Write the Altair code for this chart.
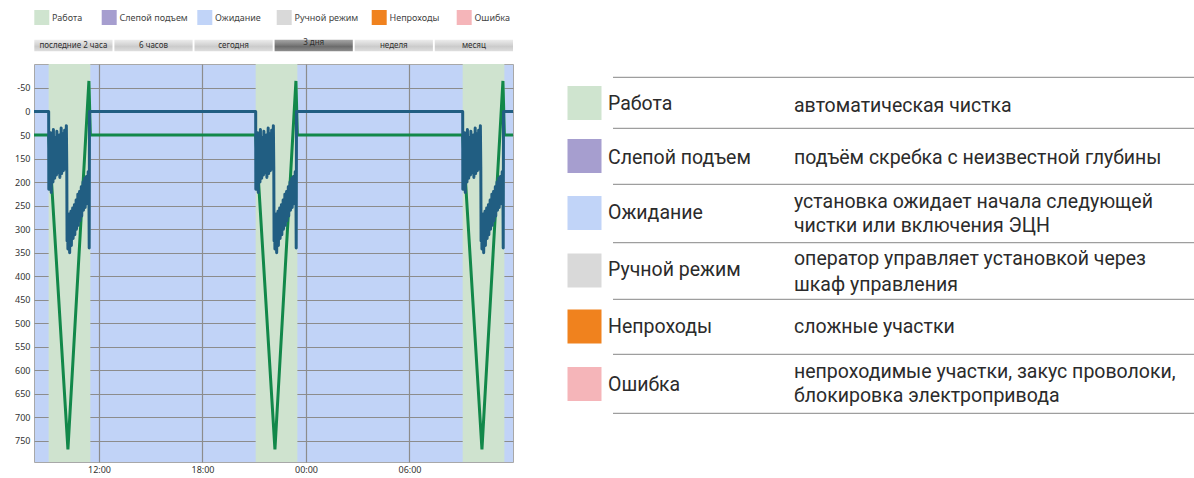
import json
import altair as alt
import pandas as pd

# ---------------- data ----------------
domain_start = "2019-03-11T08:14:00"
domain_end = "2019-03-12T12:00:00"

band_starts = ["2019-03-11T09:05:00", "2019-03-11T21:05:00", "2019-03-12T09:05:00"]
band_ends = ["2019-03-11T11:30:00", "2019-03-11T23:30:00", "2019-03-12T11:30:00"]

idle_blue = 0
idle_green = 50

# one cleaning cycle (minutes after the cycle start), identical in all three cycles
green_cycle_min = [0, 67, 140, 145]
green_cycle_val = [50, 718, -65, 50]

blue_cycle_min = [0, 0.5,
                  1.5, 3, 4.5, 6, 7.5, 9, 10.5, 12, 13.5, 15, 16.5, 18, 19.5, 21, 22.5, 24,
                  25.5, 27, 28.5, 30, 31.5, 33, 34.5, 36, 37.5, 39, 40.5, 42, 43.5, 45, 46.5,
                  48, 49.5, 51, 52.5, 54, 55.5, 57, 58.5, 60, 61.5, 63,
                  64, 65.5, 67, 68.5, 70, 71.5, 73, 74.5, 76, 77.5, 79, 80.5, 82, 83.5, 85,
                  86.5, 88, 89.5, 91, 92.5, 94, 95.5, 97, 98.5, 100, 101.5, 103, 104.5, 106,
                  107.5, 109, 110.5, 112, 113.5, 115, 116.5, 118, 119.5, 121, 122.5, 124,
                  125.5, 127, 128.5, 130, 131.5, 133, 134.5, 136, 137.5, 139,
                  140, 141, 142, 145]
blue_cycle_val = [0, 165,
                  58, 165, 72, 148, 45, 172, 80, 138, 62, 150,
                  38, 128, 85, 142, 55, 118, 70, 135, 42, 125,
                  88, 130, 60, 112, 50, 140, 75, 120, 35, 132,
                  66, 108, 48, 126, 82, 115, 40, 122, 58, 105,
                  30, 118,
                  275,
                  225, 292, 235, 280, 218, 300, 240, 276, 212, 285,
                  230, 262, 205, 270, 224, 255, 198, 262, 210, 246,
                  188, 250, 200, 236, 176, 242, 190, 225, 170, 232,
                  180, 214, 160, 222, 172, 205, 150, 210, 165, 198,
                  142, 204, 158, 192, 138, 196, 150, 186, 128, 180,
                  165, 290, 0, 0]

y_tick_values = [-50, 0, 50, 100, 150, 200, 250, 300, 350, 400, 450, 500, 550, 600, 650, 700]
y_tick_labels = ["-50", "0", "50", "150", "200", "250", "300", "350", "400", "450",
                 "500", "550", "600", "650", "700", "750"]
x_tick_times = ["2019-03-11T12:00:00", "2019-03-11T18:00:00",
                "2019-03-12T00:00:00", "2019-03-12T06:00:00"]

states = ["Работа", "Слепой подъем", "Ожидание", "Ручной режим", "Непроходы", "Ошибка"]
state_colors = ["#cfe4cf", "#a69ecf", "#c1d4f8", "#d9d9d9", "#f0821e", "#f5b5b9"]
state_desc = [
    ["автоматическая чистка"],
    ["подъём скребка с неизвестной глубины"],
    ["установка ожидает начала следующей", "чистки или включения ЭЦН"],
    ["оператор управляет установкой через", "шкаф управления"],
    ["сложные участки"],
    ["непроходимые участки, закус проволоки,", "блокировка электропривода"],
]
periods = ["последние 2 часа", "6 часов", "сегодня", "3 дня", "неделя", "месяц"]
selected_period = "3 дня"

# ---------------- layout (pixels) ----------------
OX, OY = 34, 64          # plot origin
W, H = 479, 398          # plot size
TOTAL_W, TOTAL_H = 1194, 478
CHART_FONT = "Noto Sans"
PANEL_FONT = "Roboto"
BLUE_BG = "#c1d3f7"
WORK_GREEN = "#cfe3cf"
LINE_BLUE = "#215e82"
LINE_GREEN = "#12884a"

top_sq_x = [34.3, 101.7, 197.3, 276.7, 371.7, 456.7]
btn_x0, btn_step, btn_w = 34.3, 80.1, 78.2
panel_sq_y = [86, 139, 196, 253.5, 309.5, 367]
panel_label_y = [104, 158, 213, 270, 327, 385]
panel_desc_y = [[106], [158], [202, 226], [259, 285], [327], [372, 396]]
panel_sep_y = [77.3, 128.3, 184.3, 242.7, 299.3, 354.3, 413.3]


def ts(s):
    return pd.Timestamp(s)


def dt(s):
    t = pd.Timestamp(s)
    return alt.DateTime(year=t.year, month=t.month, date=t.day, hours=t.hour, minutes=t.minute)


# ---------------- main plot ----------------
bands = pd.DataFrame({"start": band_starts, "end": band_ends, "state": states[0]})

rows = []
rows.append({"t": domain_start, "v": idle_blue, "s": "blue"})
rows.append({"t": domain_start, "v": idle_green, "s": "green"})
for bs in band_starts:
    b = ts(bs)
    for m, v in zip(blue_cycle_min, blue_cycle_val):
        rows.append({"t": (b + pd.Timedelta(seconds=m * 60)).strftime("%Y-%m-%dT%H:%M:%S"), "v": v, "s": "blue"})
    for m, v in zip(green_cycle_min, green_cycle_val):
        rows.append({"t": (b + pd.Timedelta(seconds=m * 60)).strftime("%Y-%m-%dT%H:%M:%S"), "v": v, "s": "green"})
rows.append({"t": domain_end, "v": idle_blue, "s": "blue"})
rows.append({"t": domain_end, "v": idle_green, "s": "green"})
lines = pd.DataFrame(rows)

label_expr = "{}[indexof({}, datum.value)]".format(json.dumps(y_tick_labels, ensure_ascii=False),
                                                      json.dumps(y_tick_values))

x_scale = alt.Scale(domain=[dt(domain_start), dt(domain_end)], nice=False)
x_axis = alt.Axis(values=[dt(s) for s in x_tick_times], format="%H:%M", grid=True,
                  gridColor="#8c8c8c", gridWidth=1.2, ticks=False, domain=False,
                  labelFont=CHART_FONT, labelFontSize=9, labelColor="#333333",
                  labelPadding=3, labelFlush=False)
y_scale = alt.Scale(domain=[-101, 745], reverse=True, nice=False, zero=False)
y_axis = alt.Axis(values=y_tick_values, labelExpr=label_expr, grid=True, gridColor="#8c8c8c",
                  gridWidth=1.2, ticks=False, domain=False, labelFont=CHART_FONT,
                  labelFontSize=9, labelColor="#333333", labelPadding=4)

band_layer = alt.Chart(bands).mark_rect(color=WORK_GREEN).encode(
    x=alt.X("start:T", title=None, scale=x_scale, axis=x_axis), x2="end:T")

blue_layer = alt.Chart(lines).transform_filter(alt.datum.s == "blue").mark_line(
    color=LINE_BLUE, strokeWidth=3, strokeJoin="round").encode(
    x=alt.X("t:T", title=None, scale=x_scale, axis=x_axis),
    y=alt.Y("v:Q", title=None, scale=y_scale, axis=y_axis))

green_layer = alt.Chart(lines).transform_filter(alt.datum.s == "green").mark_line(
    color=LINE_GREEN, strokeWidth=3).encode(
    x=alt.X("t:T", title=None, scale=x_scale, axis=x_axis),
    y=alt.Y("v:Q", title=None, scale=y_scale, axis=y_axis))

main = alt.layer(band_layer, green_layer, blue_layer)


# ---------------- decorations (legend, period buttons, explanation panel) ----------------
def X(f):
    return alt.X(f, scale=None, axis=None)


def Y(f):
    return alt.Y(f, scale=None, axis=None)


top_sq = pd.DataFrame({
    "x": [x - OX for x in top_sq_x], "x2": [x + 15 - OX for x in top_sq_x],
    "y": 10 - OY, "y2": 25 - OY, "c": state_colors})
top_sq_layer = alt.Chart(top_sq).mark_rect().encode(
    x=X("x:Q"), x2="x2:Q", y=Y("y:Q"), y2="y2:Q", color=alt.Color("c:N", scale=None))

top_lbl = pd.DataFrame({"x": [x + 17.8 - OX for x in top_sq_x], "y": 17.5 - OY, "t": states})
top_lbl_layer = alt.Chart(top_lbl).mark_text(
    align="left", baseline="middle", font=CHART_FONT, fontSize=9, color="#444444").encode(
    x=X("x:Q"), y=Y("y:Q"), text="t:N")

btn = pd.DataFrame({
    "x": [btn_x0 + i * btn_step - OX for i in range(len(periods))],
    "x2": [btn_x0 + i * btn_step + btn_w - OX for i in range(len(periods))],
    "xc": [btn_x0 + i * btn_step + btn_w / 2 - OX for i in range(len(periods))],
    "y": 39.7 - OY, "y2": 51.2 - OY,
    "ty": [(43.2 if p == selected_period else 45.6) - OY for p in periods],
    "t": periods,
    "sel": [p == selected_period for p in periods]})

grad_normal = alt.Gradient(gradient="linear", x1=0, x2=0, y1=0, y2=1, stops=[
    alt.GradientStop(color="#ececec", offset=0), alt.GradientStop(color="#dcdcdc", offset=0.3),
    alt.GradientStop(color="#cbcbcb", offset=0.6), alt.GradientStop(color="#dedede", offset=1)])
grad_sel = alt.Gradient(gradient="linear", x1=0, x2=0, y1=0, y2=1, stops=[
    alt.GradientStop(color="#a6a6a6", offset=0), alt.GradientStop(color="#8a8a8a", offset=0.3),
    alt.GradientStop(color="#6c6c6c", offset=0.6), alt.GradientStop(color="#8e8e8e", offset=1)])

btn_layer = alt.Chart(btn).transform_filter(~alt.datum.sel).mark_rect(fill=grad_normal).encode(
    x=X("x:Q"), x2="x2:Q", y=Y("y:Q"), y2="y2:Q")
btn_sel_layer = alt.Chart(btn).transform_filter(alt.datum.sel).mark_rect(fill=grad_sel).encode(
    x=X("x:Q"), x2="x2:Q", y=Y("y:Q"), y2="y2:Q")
btn_txt = alt.Chart(btn).mark_text(
    align="center", baseline="middle", font=CHART_FONT, fontSize=8, color="#2e2e2e").encode(
    x=X("xc:Q"), y=Y("ty:Q"), text="t:N")

panel_sq = pd.DataFrame({
    "x": 567.5 - OX, "x2": 601.5 - OX,
    "y": [y - OY for y in panel_sq_y], "y2": [y + 34 - OY for y in panel_sq_y],
    "c": state_colors})
panel_sq_layer = alt.Chart(panel_sq).mark_rect().encode(
    x=X("x:Q"), x2="x2:Q", y=Y("y:Q"), y2="y2:Q", color=alt.Color("c:N", scale=None))

panel_sep = pd.DataFrame({"x": 613 - OX, "x2": TOTAL_W - OX, "y": [y - OY for y in panel_sep_y]})
panel_sep_layer = alt.Chart(panel_sep).mark_rule(color="#9e9e9e", strokeWidth=1.3).encode(
    x=X("x:Q"), x2="x2:Q", y=Y("y:Q"))

panel_lbl = pd.DataFrame({"x": 608 - OX, "y": [y - OY for y in panel_label_y], "t": states})
panel_lbl_layer = alt.Chart(panel_lbl).mark_text(
    align="left", baseline="middle", font=PANEL_FONT, fontSize=19.5, fontWeight=400,
    color="#2b2b2b").encode(x=X("x:Q"), y=Y("y:Q"), text="t:N")

desc_rows = []
for lines_txt, ys in zip(state_desc, panel_desc_y):
    for txt, yy in zip(lines_txt, ys):
        desc_rows.append({"x": 794 - OX, "y": yy - OY, "t": txt})
panel_desc = pd.DataFrame(desc_rows)
panel_desc_layer = alt.Chart(panel_desc).mark_text(
    align="left", baseline="middle", font=PANEL_FONT, fontSize=19.5, fontWeight=400,
    color="#2b2b2b").encode(x=X("x:Q"), y=Y("y:Q"), text="t:N")

chart = alt.layer(
    main, top_sq_layer, top_lbl_layer, btn_layer, btn_sel_layer, btn_txt,
    panel_sep_layer, panel_sq_layer, panel_lbl_layer, panel_desc_layer
).resolve_scale(x="independent", y="independent").properties(
    width=W, height=H,
    autosize=alt.AutoSizeParams(type="none"),
    padding={"left": OX, "top": OY, "right": TOTAL_W - OX - W, "bottom": TOTAL_H - OY - H},
    background="white",
).configure_view(fill=BLUE_BG, stroke="#a8a8a8", strokeWidth=1)

chart.save("out.html", embed_options={"renderer": "svg", "actions": False})
